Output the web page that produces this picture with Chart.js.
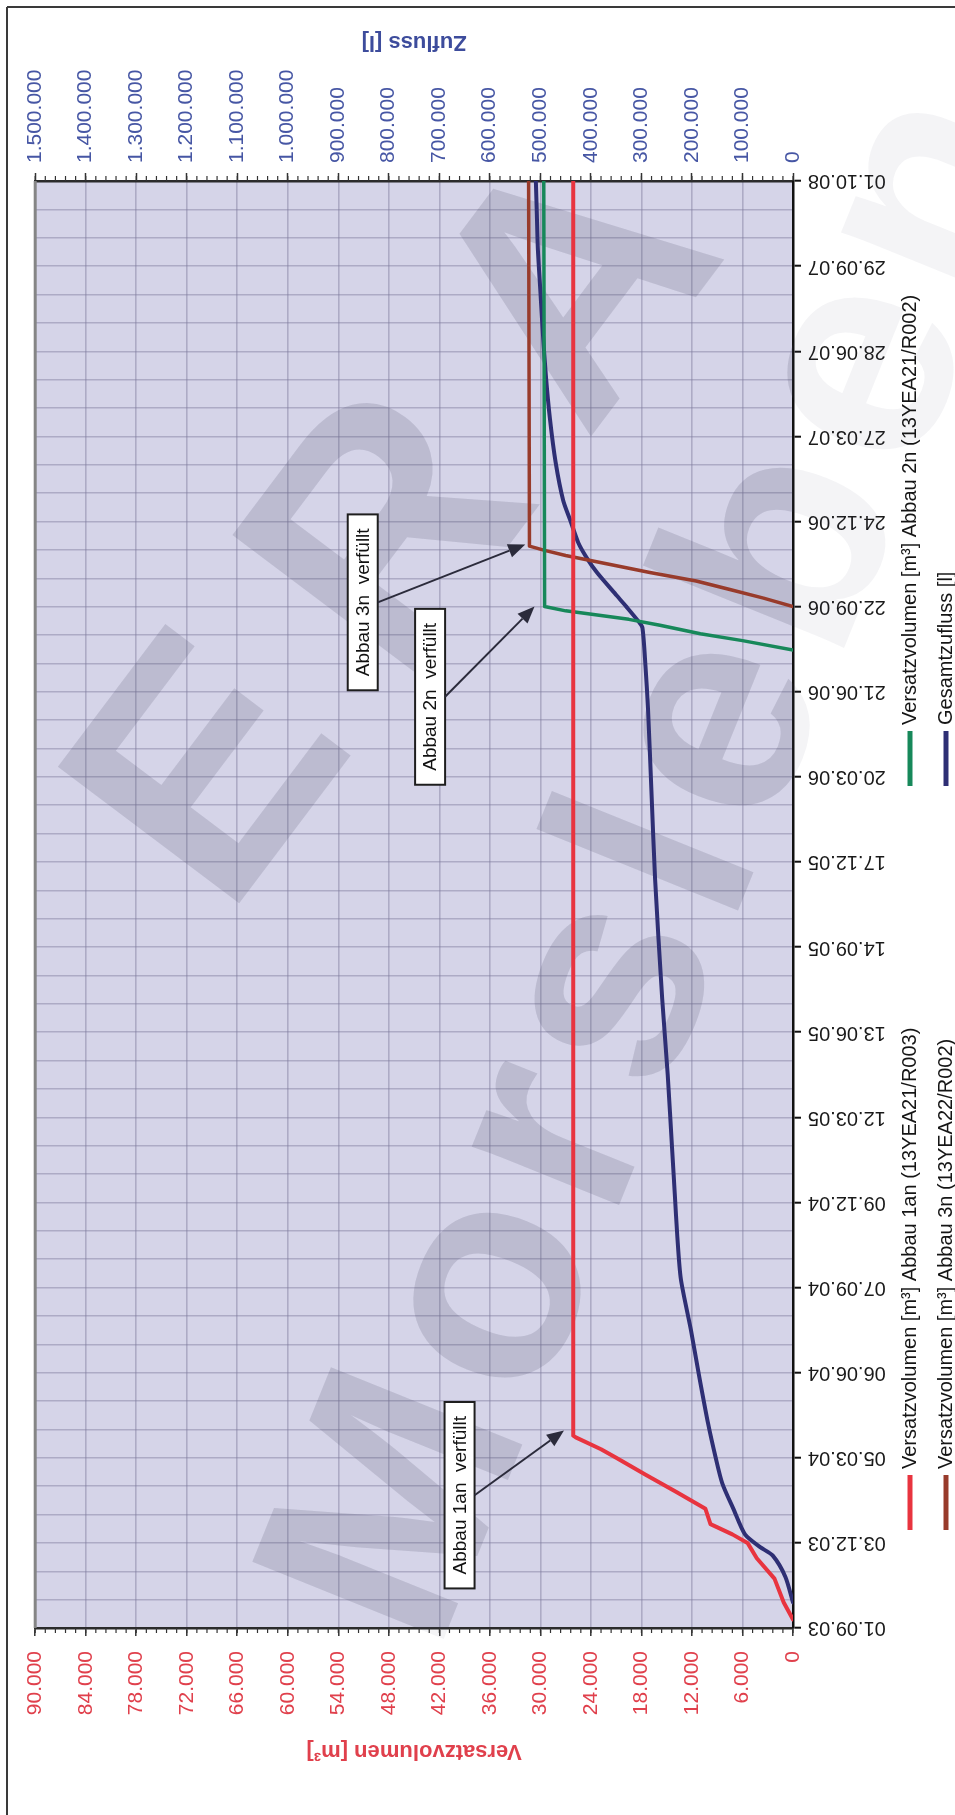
<!DOCTYPE html>
<html>
<head>
<meta charset="utf-8">
<script src="https://cdn.jsdelivr.net/npm/chart.js@4.4.1/dist/chart.umd.min.js"></script>
<style>
  html, body { margin: 0; padding: 0; background: #fff; }
  #wrap { position: relative; width: 955px; height: 1815px; }
</style>
</head>
<body>
<div id="wrap"><canvas id="chart" width="955" height="1815"></canvas></div>
<script>
// Date labels of the (vertical) time axis, last one is the axis end
const dateLabels = ['01.09.03', '03.12.03', '05.03.04', '06.06.04', '07.09.04', '09.12.04',
  '12.03.05', '13.06.05', '14.09.05', '17.12.05', '20.03.06', '21.06.06', '22.09.06',
  '24.12.06', '27.03.07', '28.06.07', '29.09.07', '01.10.08'];

// positions are given in label steps (0 = 01.09.03 ... 17 = 01.10.08)
const abbau1anPos = [0.1, 0.3, 0.58, 0.82, 1.0, 1.1, 1.22, 1.4, 1.6, 1.8, 2.0, 2.1, 2.24, 2.26, 17];
const abbau1anVol = [0, 1100, 2200, 4300, 5400, 7200, 9800, 10400, 13900, 17500, 21000, 22800, 25800, 26100, 26100];

const abbau2nPos = [11.49, 11.6, 11.68, 11.78, 11.85, 11.95, 12.0, 17];
const abbau2nVol = [0, 6000, 11000, 15800, 19500, 27000, 29500, 29600];

const abbau3nPos = [12.0, 12.1, 12.2, 12.3, 12.4, 12.5, 12.6, 12.66, 12.71, 17];
const abbau3nVol = [0, 3500, 7500, 11500, 17000, 22000, 27000, 29500, 31300, 31400];

const zuflussPos = [0.3, 0.6, 0.85, 0.95, 1.1, 1.4, 1.7, 2.0, 2.4, 3.0, 3.5, 4.1, 4.6, 5.1, 5.6,
  6.5, 7.4, 8.8, 9.8, 10.8, 11.3, 11.75, 11.82, 12.0, 12.13, 12.4, 12.57, 12.75, 13.0, 13.25,
  13.7, 14.2, 14.7, 15.2, 15.7, 16.2, 16.6, 17.0];
const zuflussVol = [0, 15000, 40000, 65000, 95000, 118000, 140000, 153000, 168000, 187000, 202000,
  222000, 229000, 234000, 239000, 248000, 259000, 273000, 280000, 287000, 292000, 298000, 305000,
  330000, 349000, 388000, 408000, 425000, 440000, 455000, 470000, 481000, 489000, 495000, 500000,
  505000, 507000, 509000];

// "verfüllt" notes: box centre and arrow tip (time position / volume)
const noteTexts = ['Abbau 1an  verfüllt', 'Abbau 3n  verfüllt', 'Abbau 2n  verfüllt'];
const notePos = [1.56, 12.05, 10.94];
const noteVol = [39600, 51100, 43100];
const arrowPos = [2.32, 12.73, 12.0];
const arrowVol = [27200, 31800, 30700];

const FONT = '"Liberation Sans", Arial, sans-serif';
const RED = '#e8343f';
const GREEN = '#17885a';
const BROWN = '#983b2b';
const NAVY = '#2e2f74';
const gridColor = 'rgba(125,122,155,0.45)';

const fmt = v => String(Math.round(v)).replace(/\B(?=(\d{3})+(?!\d))/g, '.');
const toPoints = (pos, vol) => pos.map((p, i) => ({ x: vol[i], y: p }));
const isMajor = v => Math.abs(v - Math.round(v)) < 1e-6;
const gridSteps = Array.from({ length: 52 }, (_, i) => i / 3);

function line(ctx, x1, y1, x2, y2) {
  ctx.beginPath();
  ctx.moveTo(x1, y1);
  ctx.lineTo(x2, y2);
  ctx.stroke();
}

function rotatedText(ctx, text, x, y, angle, font, color, align) {
  ctx.save();
  ctx.translate(x, y);
  ctx.rotate(angle);
  ctx.font = font;
  ctx.fillStyle = color;
  ctx.textAlign = align || 'center';
  ctx.textBaseline = 'middle';
  ctx.fillText(text, 0, 0);
  ctx.restore();
}

function drawWord(ctx, text, cx, cy, angle, size, spacing) {
  ctx.save();
  ctx.translate(cx, cy);
  ctx.rotate(angle);
  ctx.font = `bold ${size}px ${FONT}`;
  ctx.textBaseline = 'middle';
  const chars = [...text];
  const widths = chars.map(ch => ctx.measureText(ch).width);
  const total = widths.reduce((s, w) => s + w, 0) + spacing * (chars.length - 1);
  let x = -total / 2;
  chars.forEach((ch, i) => {
    ctx.fillText(ch, x, 0);
    x += widths[i] + spacing;
  });
  ctx.restore();
}

function watermark(ctx) {
  drawWord(ctx, 'ERA', 405, 532, -53 * Math.PI / 180, 330, 70);
  drawWord(ctx, 'Morsleben', 666, 868, -68 * Math.PI / 180, 300, 17);
}

function arrow(ctx, sx, sy, tx, ty) {
  const ang = Math.atan2(ty - sy, tx - sx);
  const head = 17, half = 7;
  ctx.save();
  ctx.strokeStyle = '#2b2b3b';
  ctx.fillStyle = '#2b2b3b';
  ctx.lineWidth = 2;
  const bx = tx - head * Math.cos(ang), by = ty - head * Math.sin(ang);
  line(ctx, sx, sy, bx, by);
  ctx.beginPath();
  ctx.moveTo(tx, ty);
  ctx.lineTo(bx + half * Math.sin(ang), by - half * Math.cos(ang));
  ctx.lineTo(bx - half * Math.sin(ang), by + half * Math.cos(ang));
  ctx.closePath();
  ctx.fill();
  ctx.restore();
}

const chartDecor = {
  id: 'chartDecor',
  beforeDraw(chart) {
    const { ctx, chartArea: a } = chart;
    ctx.save();
    ctx.fillStyle = '#d5d4e8';
    ctx.fillRect(a.left, a.top, a.right - a.left, a.bottom - a.top);
    ctx.restore();
  },
  beforeDatasetsDraw(chart) {
    const { ctx, chartArea: a } = chart;
    // faint everywhere, stronger inside the plot area
    ctx.save();
    ctx.fillStyle = 'rgba(70,70,100,0.06)';
    watermark(ctx);
    ctx.beginPath();
    ctx.rect(a.left, a.top, a.right - a.left, a.bottom - a.top);
    ctx.clip();
    ctx.fillStyle = 'rgba(70,70,100,0.12)';
    watermark(ctx);
    ctx.restore();
  },
  afterDraw(chart) {
    const { ctx, chartArea: a } = chart;
    const xs = chart.scales.x, x1 = chart.scales.x1, ys = chart.scales.y;
    const cx = (a.left + a.right) / 2;

    // left plot edge
    ctx.save();
    ctx.strokeStyle = '#858585';
    ctx.lineWidth = 3;
    line(ctx, a.left, a.top, a.left, a.bottom);

    // minor ticks on both value axes
    ctx.strokeStyle = '#333';
    ctx.lineWidth = 1.2;
    for (let v = 0; v <= 90000; v += 1200) {
      const x = xs.getPixelForValue(v);
      line(ctx, x, a.bottom, x, a.bottom + 5);
    }
    for (let v = 0; v <= 1500000; v += 20000) {
      const x = x1.getPixelForValue(v);
      line(ctx, x, a.top, x, a.top - 5);
    }

    // outer frame
    ctx.strokeStyle = '#3a3a3a';
    ctx.lineWidth = 2;
    line(ctx, 7, 7, 955, 7);
    line(ctx, 7, 7, 7, 1815);
    ctx.restore();

    // axis titles
    rotatedText(ctx, 'Zufluss [l]', cx, 42, Math.PI, `bold 22px ${FONT}`, '#3d4c9c');
    rotatedText(ctx, 'Versatzvolumen [m³]', cx, 1751, Math.PI, `bold 22px ${FONT}`, '#e0404c');

    // notes with arrows
    ctx.save();
    ctx.font = `19px ${FONT}`;
    noteTexts.forEach((t, i) => {
      const bx = xs.getPixelForValue(noteVol[i]);
      const by = ys.getPixelForValue(notePos[i]);
      const tw = ctx.measureText(t).width;
      const bw = 30, bh = tw + 28;
      ctx.fillStyle = '#fff';
      ctx.fillRect(bx - bw / 2, by - bh / 2, bw, bh);
      ctx.strokeStyle = '#1e1e1e';
      ctx.lineWidth = 2;
      ctx.strokeRect(bx - bw / 2, by - bh / 2, bw, bh);
      rotatedText(ctx, t, bx + 1, by, -Math.PI / 2, `19px ${FONT}`, '#111');
      arrow(ctx, bx + bw / 2, by, xs.getPixelForValue(arrowVol[i]), ys.getPixelForValue(arrowPos[i]));
    });
    ctx.restore();

    // legend: two rows, two columns
    const legendRowX = [910, 946];
    const legendColY = [1530, 786];
    chart.data.datasets.forEach((ds, i) => {
      const x = legendRowX[Math.floor(i / 2)];
      const y = legendColY[i % 2];
      ctx.save();
      ctx.strokeStyle = ds.borderColor;
      ctx.lineWidth = 5;
      line(ctx, x, y, x, y - 55);
      ctx.restore();
      rotatedText(ctx, ds.label, x, y - 61, -Math.PI / 2, `20px ${FONT}`, '#151515', 'left');
    });
  }
};

new Chart(document.getElementById('chart'), {
  type: 'line',
  data: {
    datasets: [
      { label: 'Versatzvolumen [m³] Abbau 1an (13YEA21/R003)', data: toPoints(abbau1anPos, abbau1anVol),
        borderColor: RED, borderWidth: 4, xAxisID: 'x', yAxisID: 'y' },
      { label: 'Versatzvolumen [m³] Abbau 2n (13YEA21/R002)', data: toPoints(abbau2nPos, abbau2nVol),
        borderColor: GREEN, borderWidth: 3.5, xAxisID: 'x', yAxisID: 'y' },
      { label: 'Versatzvolumen [m³] Abbau 3n (13YEA22/R002)', data: toPoints(abbau3nPos, abbau3nVol),
        borderColor: BROWN, borderWidth: 3.5, xAxisID: 'x', yAxisID: 'y' },
      { label: 'Gesamtzufluss [l]', data: toPoints(zuflussPos, zuflussVol),
        borderColor: NAVY, borderWidth: 4, tension: 0.25, xAxisID: 'x1', yAxisID: 'y' }
    ]
  },
  options: {
    responsive: false,
    animation: false,
    elements: { point: { radius: 0 }, line: { borderCapStyle: 'round', borderJoinStyle: 'round' } },
    layout: { padding: { left: 35, right: 0, top: 0, bottom: 0 } },
    plugins: { legend: { display: false }, tooltip: { enabled: false } },
    scales: {
      x: {
        type: 'linear', position: 'bottom', reverse: true, min: 0, max: 90000,
        afterFit: s => { s.height = 187; },
        grid: { color: gridColor, lineWidth: 1.6, tickLength: 8, tickColor: '#333', tickWidth: 1.5 },
        border: { color: '#2b2b2b', width: 2.5 },
        ticks: { stepSize: 6000, minRotation: 90, maxRotation: 90, padding: 15, autoSkip: false,
          color: '#e0404c', font: { family: FONT, size: 21 }, callback: v => fmt(v) }
      },
      x1: {
        type: 'linear', position: 'top', reverse: true, min: 0, max: 1500000,
        afterFit: s => { s.height = 181; },
        grid: { drawOnChartArea: false, tickLength: 8, tickColor: '#333', tickWidth: 1.5 },
        border: { color: '#2b2b2b', width: 2.5 },
        ticks: { stepSize: 100000, minRotation: 90, maxRotation: 90, padding: 10, autoSkip: false,
          labelOffset: 25, color: '#4656a4', font: { family: FONT, size: 21 }, callback: v => fmt(v) }
      },
      y: {
        type: 'linear', position: 'right', min: 0, max: 17,
        afterFit: s => { s.width = 162; },
        afterBuildTicks: s => { s.ticks = gridSteps.map(v => ({ value: v })); },
        grid: { color: gridColor, lineWidth: 1.4, tickLength: 8, tickWidth: 2,
          tickColor: c => (c.tick && isMajor(c.tick.value)) ? '#111' : 'rgba(0,0,0,0)' },
        border: { color: '#111', width: 2.5 },
        ticks: { minRotation: 180, maxRotation: 180, crossAlign: 'center', padding: 7, autoSkip: false,
          color: '#1a1a1a', font: { family: FONT, size: 20 },
          callback: v => isMajor(v) ? dateLabels[Math.round(v)] : '' }
      }
    }
  },
  plugins: [chartDecor]
});
</script>
</body>
</html>
